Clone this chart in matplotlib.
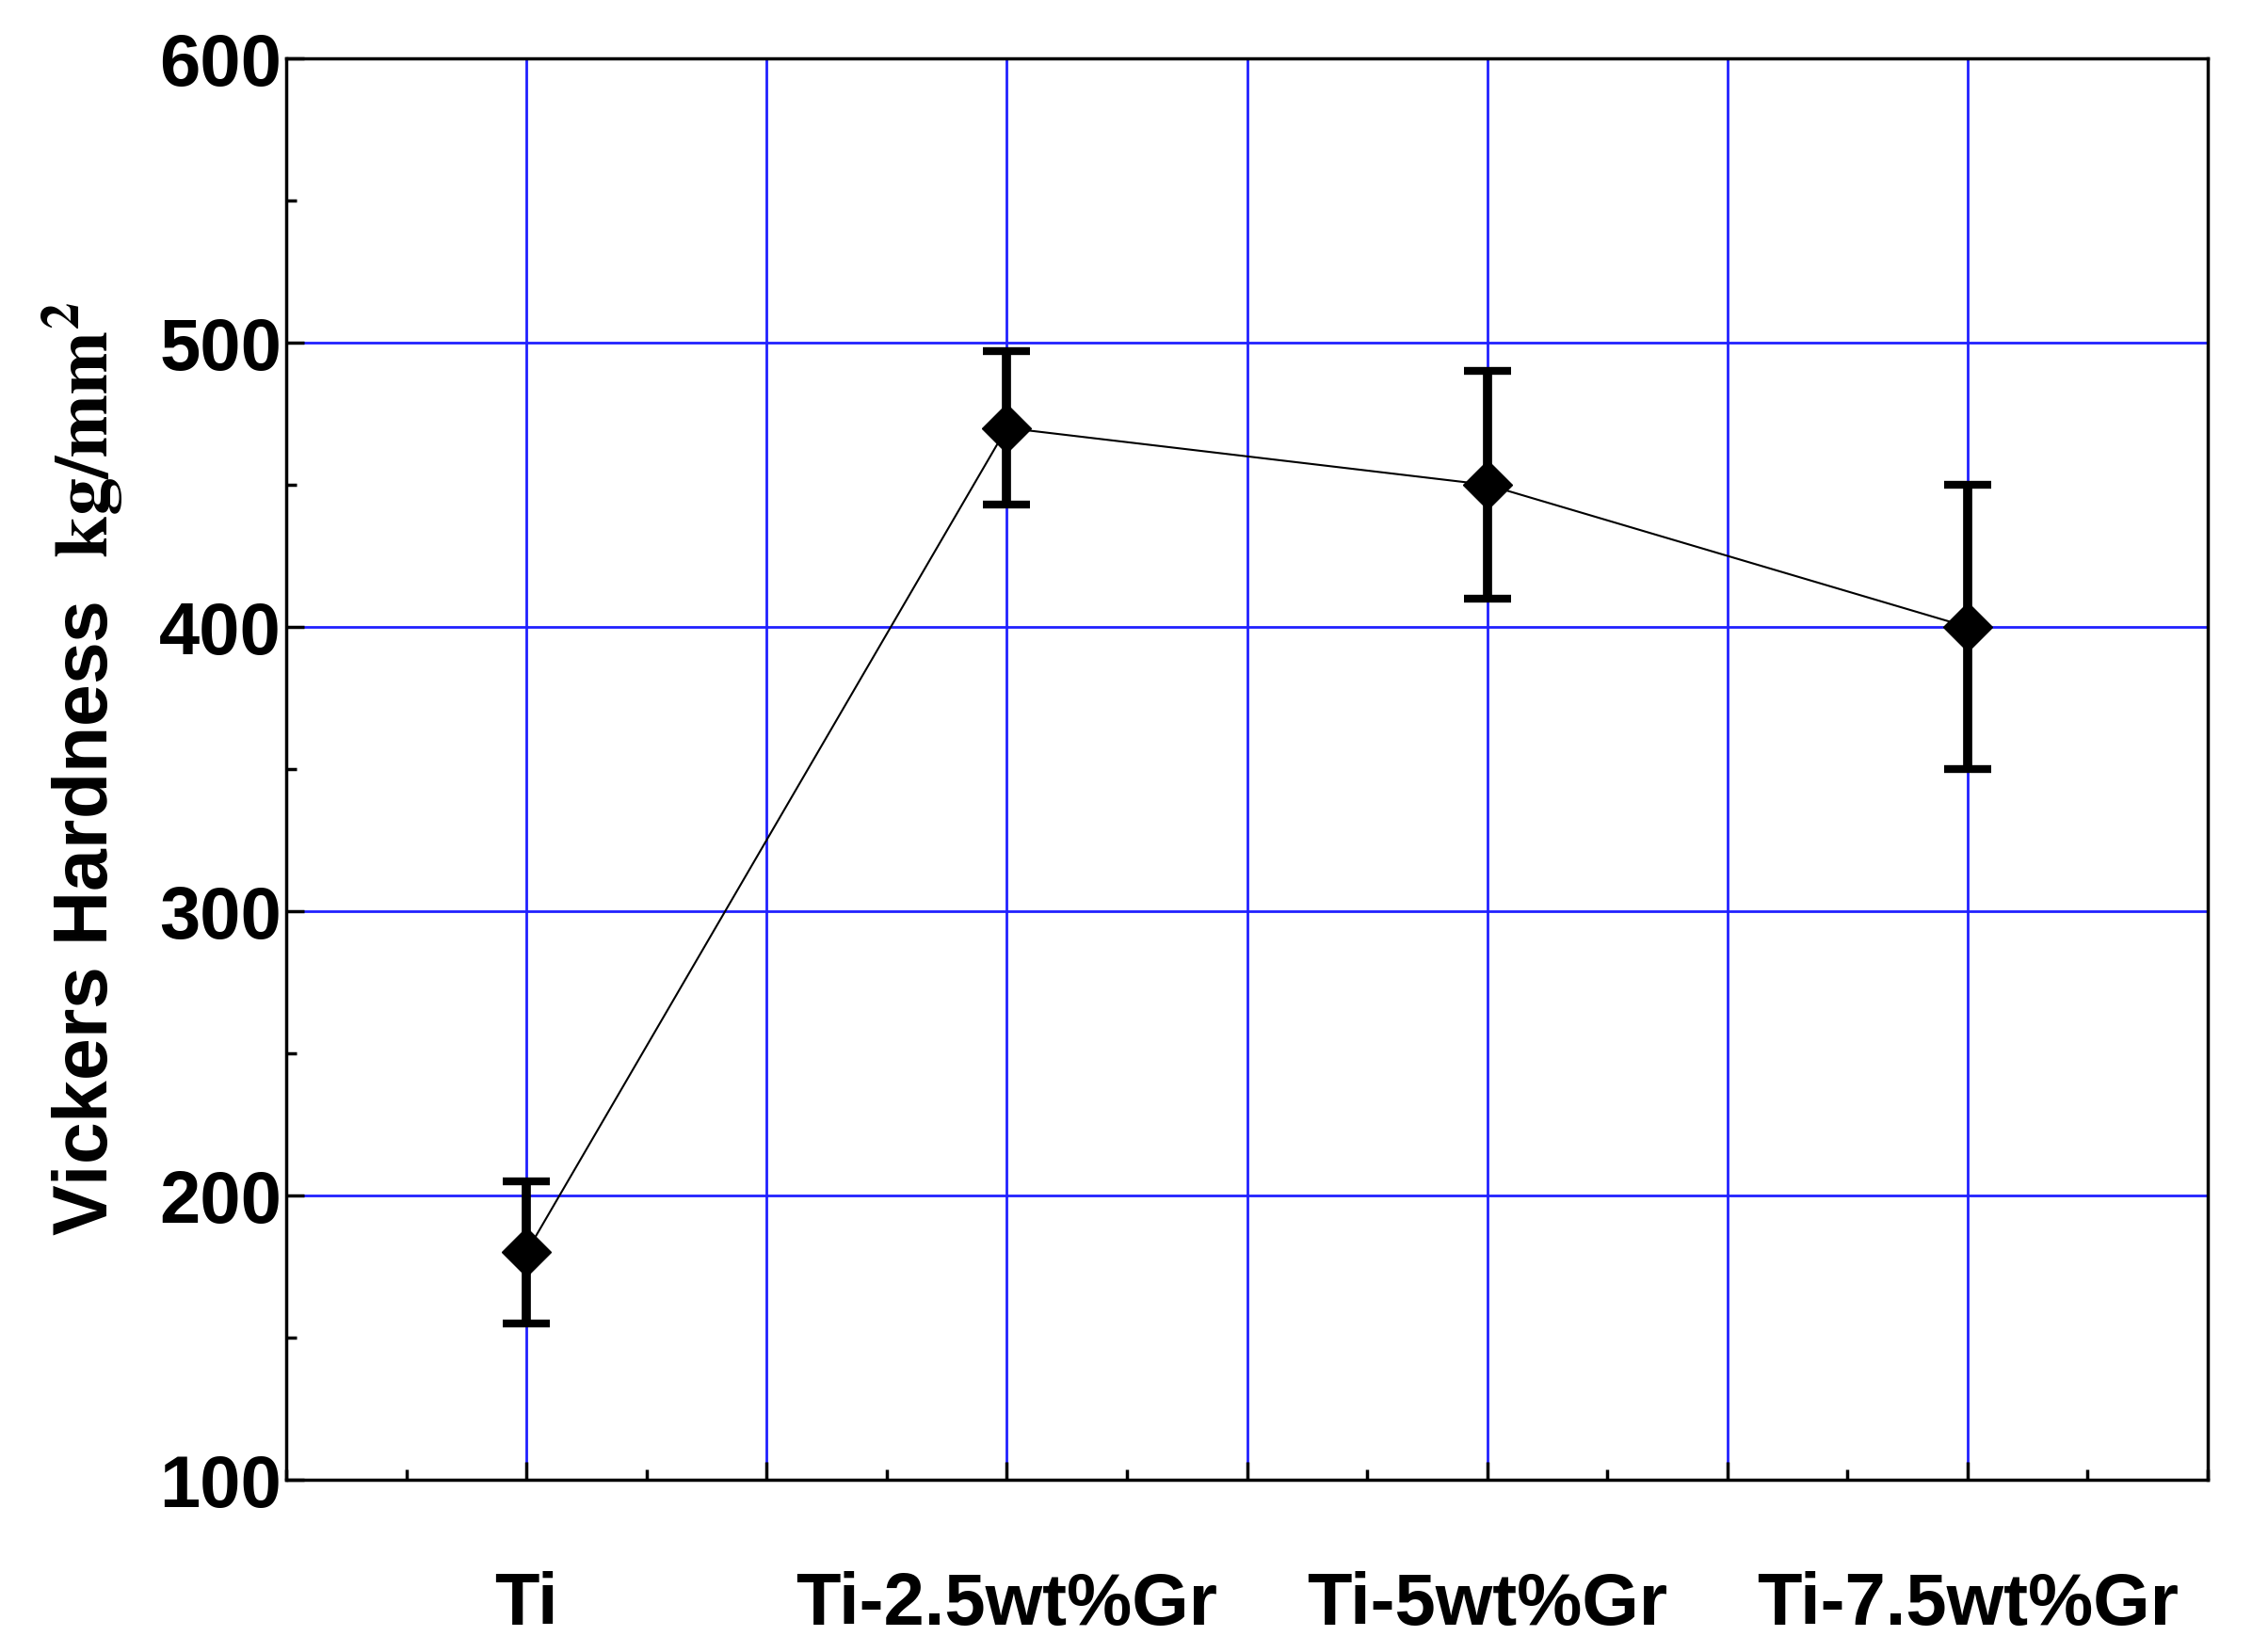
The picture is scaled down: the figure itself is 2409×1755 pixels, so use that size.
import matplotlib
matplotlib.use("Agg")
import matplotlib.pyplot as plt
from matplotlib.ticker import MultipleLocator

plt.rcParams['font.family'] = ['Liberation Sans', 'DejaVu Sans']
plt.rcParams['mathtext.fontset'] = 'stix'

categories = ["Ti", "Ti-2.5wt%Gr", "Ti-5wt%Gr", "Ti-7.5wt%Gr"]
hardness = [180, 470, 450, 400]
errors = [25, 27, 40, 50]
positions = [1, 3, 5, 7]

fig = plt.figure(figsize=(24.09, 17.55), dpi=100)
ax = fig.add_axes([304/2409, 1 - 1572/1755, (2345-304)/2409, (1572-62)/1755])
ax.plot(positions, hardness, color="black", lw=1.5, zorder=3)
ax.errorbar(positions, hardness, yerr=errors, fmt="D", color="black", ms=26,
            ecolor="black", elinewidth=7, capsize=18, capthick=6, zorder=4)
ax.set_xlim(0, 8)
ax.set_ylim(100, 600)
ax.set_xticks(range(1, 8))
ax.set_xticklabels(["Ti", "", "Ti-2.5wt%Gr", "", "Ti-5wt%Gr", "", "Ti-7.5wt%Gr"])
ax.xaxis.set_minor_locator(MultipleLocator(0.5))
ax.yaxis.set_major_locator(MultipleLocator(100))
ax.yaxis.set_minor_locator(MultipleLocator(50))
ax.grid(True, which="major", color="#2020ff", lw=2, zorder=1)
ax.tick_params(which="both", direction="in", width=2.5, labelsize=56)
ax.tick_params(which="major", length=14)
ax.tick_params(which="minor", length=8)
ax.tick_params(axis="x", pad=70)
for lab in ax.get_xticklabels() + ax.get_yticklabels():
    lab.set_fontweight("bold")
for s in ax.spines.values():
    s.set_linewidth(2.5)
ax.set_ylabel(r"Vickers Hardness  $\mathbf{kg/mm^2}$", fontsize=58, fontweight="bold", labelpad=25)
fig.savefig("out.png", dpi=100)
